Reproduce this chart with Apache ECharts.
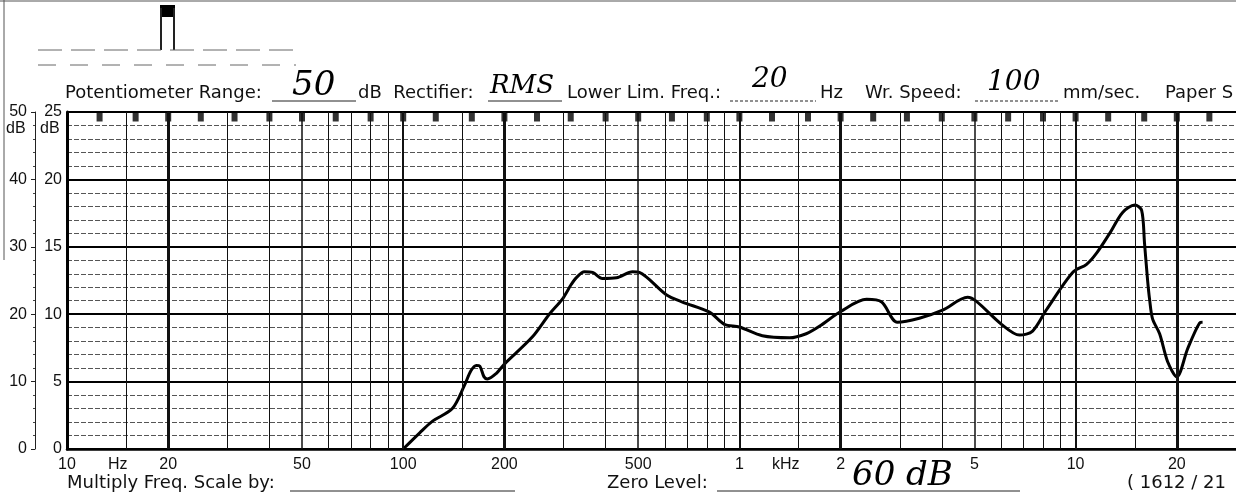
<!DOCTYPE html>
<html>
<head>
<meta charset="utf-8">
<script src="https://cdn.jsdelivr.net/npm/echarts@6/dist/echarts.min.js"></script>
<style>
  html, body { margin: 0; padding: 0; background: #fff; }
  #chart { width: 1236px; height: 497px; }
</style>
</head>
<body>
<div id="chart"></div>
<script>
// Response curve (frequency in Hz, level in dB)
const freqHz = [100, 112, 122, 140, 152, 159, 165, 169, 174, 178, 189, 200, 242, 272, 297, 316, 327, 346, 366, 391, 431, 481, 504, 606, 677, 815, 902, 1000, 1170, 1410, 1580, 1730, 2000, 2390, 2650, 2950, 3430, 4020, 4770, 5070, 6020, 6810, 7450, 8200, 9800, 10780, 11560, 12630, 13800, 15000, 15720, 16030, 16370, 16600, 16940, 17780, 18800, 20000, 21550, 23380, 23860];
const levelDb = [0, 2.4, 4.1, 6.0, 9.4, 11.6, 12.4, 12.3, 10.7, 10.4, 11.2, 12.6, 16.6, 20.0, 22.2, 24.4, 25.4, 26.3, 26.2, 25.3, 25.4, 26.3, 26.2, 22.9, 21.8, 20.3, 18.5, 18.1, 16.8, 16.5, 17.1, 18.2, 20.4, 22.2, 21.8, 18.8, 19.4, 20.6, 22.5, 21.9, 18.5, 16.9, 17.5, 20.7, 26.2, 27.4, 29.1, 32.0, 35.1, 36.2, 35.4, 30.6, 25.1, 22.2, 19.3, 17.1, 12.9, 10.7, 14.9, 18.7, 18.8];

// Vertical paper rulings
const gridHz = [15, 20, 30, 40, 50, 60, 70, 80, 90, 100, 150, 200, 300, 400, 500, 600, 700, 800, 900, 1000, 1500, 2000, 3000, 4000, 5000, 6000, 7000, 8000, 9000, 10000, 15000, 20000, 30000];
// Third-octave markers along the top edge
const markerHz = [12.5, 16, 20, 25, 31.5, 40, 50, 63, 80, 100, 125, 160, 200, 250, 315, 400, 500, 630, 800, 1000, 1250, 1600, 2000, 2500, 3150, 4000, 5000, 6300, 8000, 10000, 12500, 16000, 20000, 25000];

// Frequency tick labels
const tickHz = [10, 20, 50, 100, 200, 500, 1000, 2000, 5000, 10000, 20000];
const tickLabels = ['10', '20', '50', '100', '200', '500', '1', '2', '5', '10', '20'];

const FONT = 'Liberation Sans';
const WIDE = 'DejaVu Sans';
const HAND = 'DejaVu Serif';

// Heavier rulings at 2x, 1x and 5x of every decade
const rulingWidth = (f) => {
  const m = f / Math.pow(10, Math.floor(Math.log10(f) + 1e-9));
  if (Math.abs(m - 2) < 1e-6) return 3;
  if (Math.abs(m - 1) < 1e-6) return 2;
  if (Math.abs(m - 5) < 1e-6) return 1.5;
  return 1;
};

const labelFor = (v) => {
  const i = tickHz.findIndex(t => Math.abs(t - v) / t < 1e-6);
  return i >= 0 ? tickLabels[i] : '';
};

// Helpers for the printed form around the chart
const text = (x, y, str, extra) => ({
  type: 'text', x, y,
  style: Object.assign({ text: str, fill: '#111', font: '18px ' + WIDE, textVerticalAlign: 'middle' }, extra || {})
});
const hand = (x, y, str, size) => text(x, y, str, { font: 'italic ' + size + 'px ' + HAND, fill: '#000' });
const line = (x1, y1, x2, y2, width, dash, color) => ({
  type: 'line',
  shape: { x1, y1, x2, y2 },
  style: { stroke: color || '#222', lineWidth: width || 1, lineDash: dash || null }
});

const chart = echarts.init(document.getElementById('chart'));

const option = {
  backgroundColor: '#fff',
  animation: false,
  grid: { left: 67, right: 0, top: 112, bottom: 48, containLabel: false, outerBoundsMode: 'none' },
  xAxis: {
    type: 'log',
    logBase: 10,
    min: 10,
    max: 30000,
    axisLine: { show: true, lineStyle: { color: '#000', width: 2.5 } },
    axisTick: { show: false },
    splitLine: { show: false },
    axisLabel: {
      customValues: tickHz,
      formatter: (v) => labelFor(v),
      color: '#111',
      fontFamily: FONT,
      fontSize: 16,
      margin: 8
    }
  },
  yAxis: [
    {
      // 50 dB range
      type: 'value',
      min: 0, max: 50, interval: 10,
      position: 'left',
      offset: 32,
      axisLine: { show: true, lineStyle: { color: '#222', width: 1 } },
      axisTick: { show: true, length: 4, lineStyle: { color: '#222' } },
      minorTick: { show: true, splitNumber: 5, length: 2, lineStyle: { color: '#444' } },
      axisLabel: { color: '#111', fontFamily: FONT, fontSize: 16, margin: 8 },
      splitLine: { show: true, lineStyle: { color: '#000', width: 2 } },
      minorSplitLine: { show: true, lineStyle: { color: '#555', width: 1, type: [5, 2] } }
    },
    {
      // 25 dB range
      type: 'value',
      min: 0, max: 25, interval: 5,
      position: 'left',
      offset: 0,
      axisLine: { show: true, lineStyle: { color: '#000', width: 3 } },
      axisTick: { show: false },
      axisLabel: { color: '#111', fontFamily: FONT, fontSize: 16, margin: 5 },
      splitLine: { show: false }
    }
  ],
  series: [
    {
      // paper rulings
      type: 'line',
      data: [],
      silent: true,
      markLine: {
        silent: true,
        symbol: 'none',
        label: { show: false },
        data: gridHz.map(f => ({ xAxis: f, lineStyle: { color: '#111', type: 'solid', width: rulingWidth(f) } }))
      }
    },
    {
      // top edge markers
      type: 'scatter',
      data: markerHz.map(f => [f, 50]),
      symbol: 'rect',
      symbolSize: [6, 9],
      symbolOffset: [0, 5],
      itemStyle: { color: '#000' },
      clip: false,
      silent: true
    },
    {
      name: 'Response',
      type: 'line',
      data: freqHz.map((f, i) => [f, levelDb[i]]),
      smooth: 0.3,
      showSymbol: false,
      lineStyle: { color: '#000', width: 3 }
    }
  ],
  graphic: [
    // frame
    line(4, 0, 4, 260, 1, null, '#555'),
    line(0, 1, 1236, 1, 1, null, '#555'),
    // pen pulse and dashed baselines at the top left
    { type: 'rect', shape: { x: 160, y: 5, width: 15, height: 12 }, style: { fill: '#000' } },
    line(161, 8, 161, 50, 2),
    line(174, 8, 174, 50, 2),
    line(38, 50, 300, 50, 1, [24, 9], '#666'),
    line(38, 65, 296, 65, 1, [18, 14], '#666'),

    // header line
    text(65, 93, 'Potentiometer Range:'),
    line(272, 101, 356, 101, 1),
    hand(292, 86, '50', 34),
    text(358, 93, 'dB  Rectifier:'),
    line(488, 101, 562, 101, 1),
    hand(490, 86, 'RMS', 26),
    text(567, 93, 'Lower Lim. Freq.:'),
    line(730, 101, 816, 101, 1, [3, 2]),
    hand(752, 80, '20', 28),
    text(820, 93, 'Hz'),
    text(865, 93, 'Wr. Speed:'),
    line(975, 101, 1060, 101, 1, [3, 2]),
    hand(987, 83, '100', 28),
    text(1063, 93, 'mm/sec.'),
    text(1165, 93, 'Paper S'),

    // left labels
    text(6, 129, 'dB', { font: '16px ' + FONT }),
    text(40, 129, 'dB', { font: '16px ' + FONT }),

    // unit labels on the frequency axis
    text(108, 465, 'Hz', { font: '16px ' + FONT }),
    text(772, 465, 'kHz', { font: '16px ' + FONT }),

    // footer line
    text(67, 483, 'Multiply Freq. Scale by:'),
    line(290, 491, 515, 491, 1),
    text(607, 483, 'Zero Level:'),
    line(717, 491, 1020, 491, 1),
    hand(852, 476, '60 dB', 34),
    text(1127, 483, '( 1612 / 21', { font: '18px ' + WIDE })
  ]
};

chart.setOption(option);
</script>
</body>
</html>
